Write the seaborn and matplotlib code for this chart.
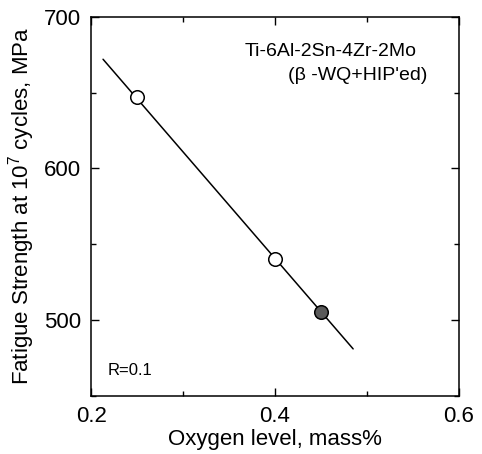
import matplotlib

matplotlib.use("Agg")
import matplotlib.pyplot as plt
import pandas as pd
import seaborn as sns
from matplotlib.ticker import MultipleLocator

# measured points (open = as received, filled = one extra specimen)
oxygen_open = [0.25, 0.40]
strength_open = [647, 540]
oxygen_filled = [0.45]
strength_filled = [505]

# fitted trend line, end points
fit_oxygen = [0.213, 0.485]
fit_strength = [672, 481]

ALLOY = "Ti-6Al-2Sn-4Zr-2Mo"
TREATMENT = "(β -WQ+HIP'ed)"
STRESS_RATIO = "R=0.1"


def main() -> None:
    sns.set_theme(style="ticks")
    plt.rcParams["font.family"] = ["Liberation Sans", "DejaVu Sans"]
    plt.rcParams["mathtext.fontset"] = "custom"
    plt.rcParams["mathtext.rm"] = "Liberation Sans"
    plt.rcParams["mathtext.it"] = "Liberation Sans"
    for key in ["text.color", "axes.labelcolor", "xtick.color", "ytick.color", "axes.edgecolor"]:
        plt.rcParams[key] = "black"

    fig = plt.figure(figsize=(4.82, 4.54), dpi=100)
    ax = fig.add_axes([0.189, 0.128, 0.763, 0.835])

    fit = pd.DataFrame({"oxygen": fit_oxygen, "strength": fit_strength})
    sns.lineplot(data=fit, x="oxygen", y="strength", color="black", lw=1.1, ax=ax)

    opened = pd.DataFrame({"oxygen": oxygen_open, "strength": strength_open})
    filled = pd.DataFrame({"oxygen": oxygen_filled, "strength": strength_filled})
    sns.scatterplot(data=opened, x="oxygen", y="strength", marker="o", s=95,
                    facecolor="white", edgecolor="black", linewidth=1.1, zorder=3, ax=ax)
    sns.scatterplot(data=filled, x="oxygen", y="strength", marker="o", s=95,
                    facecolor="#5a5a5a", edgecolor="black", linewidth=1.1, zorder=3, ax=ax)

    ax.set_xlim(0.2, 0.6)
    ax.set_ylim(450, 700)
    ax.xaxis.set_major_locator(MultipleLocator(0.2))
    ax.xaxis.set_minor_locator(MultipleLocator(0.1))
    ax.yaxis.set_major_locator(MultipleLocator(100))
    ax.yaxis.set_minor_locator(MultipleLocator(50))
    ax.set_xticklabels([f"{v:.1f}" for v in ax.get_xticks()])
    ax.tick_params(which="both", direction="in", top=True, right=True, width=1.0, color="black")
    ax.tick_params(which="major", length=6, labelsize=16, pad=7)
    ax.tick_params(which="minor", length=3.5)
    for spine in ax.spines.values():
        spine.set_visible(True)
        spine.set_linewidth(1.1)
        spine.set_color("black")

    ax.set_xlabel("Oxygen level, mass%", fontsize=16, labelpad=2)
    ax.set_ylabel("Fatigue Strength at 10$^7$ cycles, MPa", fontsize=16, labelpad=5)

    ax.text(0.3674, 676.8, ALLOY, fontsize=14, va="center", ha="left")
    ax.text(0.414, 661.6, TREATMENT, fontsize=14, va="center", ha="left")
    ax.text(0.218, 467, STRESS_RATIO, fontsize=12, va="center", ha="left")

    fig.savefig("out.png", dpi=100)
    plt.close(fig)


if __name__ == "__main__":
    main()
